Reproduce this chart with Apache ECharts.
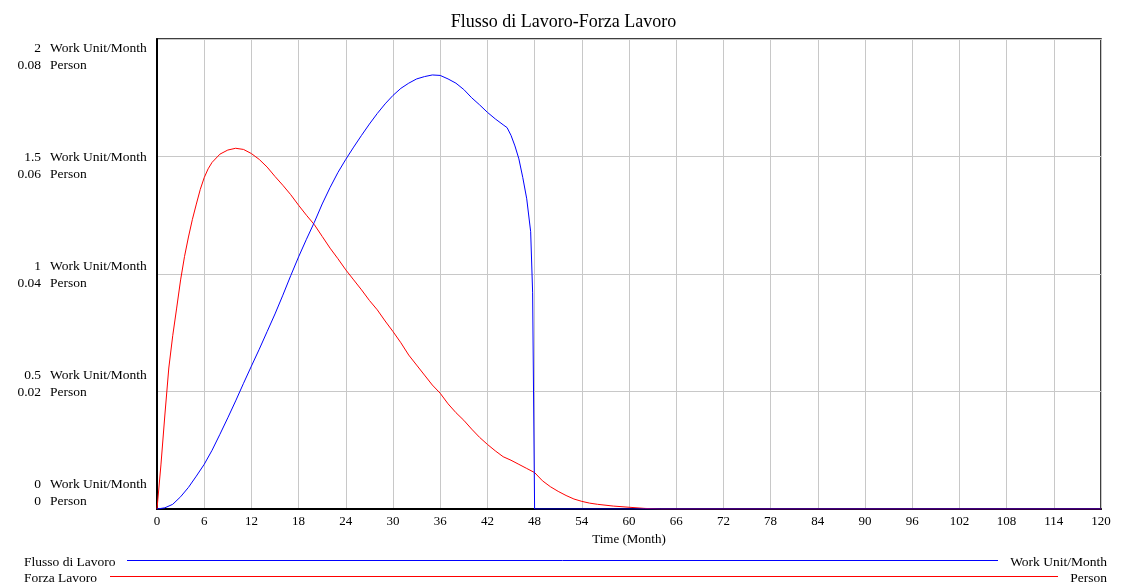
<!DOCTYPE html>
<html>
<head>
<meta charset="utf-8">
<script src="https://cdn.jsdelivr.net/npm/echarts@6/dist/echarts.min.js"></script>
<style>html,body{margin:0;padding:0;background:#fff;}#c{width:1127px;height:585px;}</style>
</head>
<body>
<div id="c"></div>
<script>
// ---- data ----
var titleText = 'Flusso di Lavoro-Forza Lavoro';
var xName = 'Time (Month)';
var flowName = 'Flusso di Lavoro';
var forceName = 'Forza Lavoro';
var flowUnit = 'Work Unit/Month';
var forceUnit = 'Person';
var flowTicks = ['2', '1.5', '1', '0.5', '0'];
var forceTicks = ['0.08', '0.06', '0.04', '0.02', '0'];

var flowT = [0,1,2,3,4,5,6,7,8,9,10,11,12,13,14,15,16,17,18,19,20,21,22,23,24,25,26,27,28,29,30,31,32,33,34,35,36,37,38,39,40,41,42,43,44,44.5,45,45.5,46,46.5,47,47.5,47.75,48,120];
var flowV = [0,0.005,0.02,0.052,0.092,0.14,0.19,0.25,0.318,0.388,0.46,0.535,0.608,0.68,0.755,0.83,0.91,0.993,1.073,1.148,1.22,1.298,1.368,1.432,1.488,1.54,1.59,1.638,1.683,1.724,1.76,1.79,1.812,1.83,1.84,1.847,1.845,1.83,1.812,1.785,1.75,1.72,1.688,1.66,1.635,1.623,1.59,1.545,1.49,1.41,1.32,1.18,0.92,0,0];

var forceT = [0,0.5,1,1.5,2,2.5,3,3.5,4,4.5,5,5.5,6,6.5,7,8,9,10,11,12,13,14,15,16,17,18,19,20,21,22,23,24,25,26,27,28,29,30,31,32,33,34,35,36,37,38,39,40,41,42,43,44,45,46,47,48,49,50,51,52,53,54,55,56,58,60,62,64,120];
var forceV = [0,0.0075,0.016,0.024,0.0295,0.0342,0.039,0.043,0.0463,0.0493,0.0519,0.0544,0.0564,0.0579,0.059,0.0604,0.0611,0.0614,0.0612,0.0605,0.0595,0.0582,0.0566,0.0551,0.0535,0.0517,0.05,0.0484,0.0464,0.0444,0.0426,0.0407,0.039,0.0373,0.0355,0.0339,0.032,0.0302,0.0283,0.0262,0.0245,0.0228,0.0211,0.0197,0.0179,0.0164,0.0151,0.0136,0.0122,0.011,0.0099,0.0089,0.0083,0.0076,0.0069,0.0062,0.0048,0.0038,0.003,0.0023,0.0017,0.0013,0.001,0.0008,0.0005,0.0003,0.0001,0,0];

function pairs(t, v) { return t.map(function (x, i) { return [x, v[i]]; }); }

var FONT = '"Liberation Serif", "Times New Roman", serif';
var LF = '13.5px ' + FONT;
var chart = echarts.init(document.getElementById('c'), null, {renderer: 'canvas'});

// y label layout (Vensim style: evenly spaced label blocks)
var labelTop = 48, labelStep = 109, lineGap = 17;
var graphics = [];
function txt(x, y, s, align) {
  return {type: 'text', x: x, y: y, style: {text: s, font: LF, fill: '#000', textAlign: align, textVerticalAlign: 'middle'}};
}
flowTicks.forEach(function (tk, i) {
  var y = labelTop + i * labelStep;
  graphics.push(txt(41, y, tk, 'right'));
  graphics.push(txt(50, y, flowUnit, 'left'));
  graphics.push(txt(41, y + lineGap, forceTicks[i], 'right'));
  graphics.push(txt(50, y + lineGap, forceUnit, 'left'));
});
// bottom legend rows
graphics.push(txt(24, 562, flowName, 'left'));
graphics.push({type: 'line', shape: {x1: 127, y1: 560.5, x2: 998, y2: 560.5}, style: {stroke: '#0000ff', lineWidth: 1}});
graphics.push(txt(1107, 562, flowUnit, 'right'));
graphics.push(txt(24, 578, forceName, 'left'));
graphics.push({type: 'line', shape: {x1: 110, y1: 576.5, x2: 1058, y2: 576.5}, style: {stroke: '#ff0000', lineWidth: 1}});
graphics.push(txt(1107, 578, forceUnit, 'right'));

chart.setOption({
  animation: false,
  backgroundColor: '#fff',
  title: {text: titleText, left: 'center', top: 8, textStyle: {fontFamily: FONT, fontSize: 18, fontWeight: 'normal', color: '#000'}},
  grid: {left: 157, right: 26, top: 39, bottom: 76, show: true, borderColor: '#000', borderWidth: 1.5, containLabel: false},
  xAxis: {
    type: 'value', min: 0, max: 120, interval: 6,
    name: xName, nameLocation: 'middle', nameGap: 24,
    nameTextStyle: {fontFamily: FONT, fontSize: 13, color: '#000'},
    axisLine: {show: true, lineStyle: {color: '#000', width: 2}},
    axisTick: {show: false},
    axisLabel: {margin: 6, fontFamily: FONT, fontSize: 13, color: '#000'},
    splitLine: {show: true, lineStyle: {color: '#c8c8c8', width: 1}}
  },
  yAxis: [
    {type: 'value', min: 0, max: 2, interval: 0.5,
     axisLine: {show: true, lineStyle: {color: '#000', width: 2}},
     axisTick: {show: false}, axisLabel: {show: false},
     splitLine: {show: true, lineStyle: {color: '#c8c8c8', width: 1}}},
    {type: 'value', min: 0, max: 0.08, interval: 0.02, position: 'left',
     axisLine: {show: false}, axisTick: {show: false}, axisLabel: {show: false}, splitLine: {show: false}}
  ],
  series: [
    {name: forceName, type: 'line', yAxisIndex: 1, data: pairs(forceT, forceV), showSymbol: false, symbol: 'none',
     lineStyle: {color: '#ff0000', width: 1}, z: 3},
    {name: flowName, type: 'line', yAxisIndex: 0, data: pairs(flowT, flowV), showSymbol: false, symbol: 'none',
     lineStyle: {color: '#0000ff', width: 1}, z: 4}
  ],
  graphic: graphics
});
</script>
</body>
</html>
